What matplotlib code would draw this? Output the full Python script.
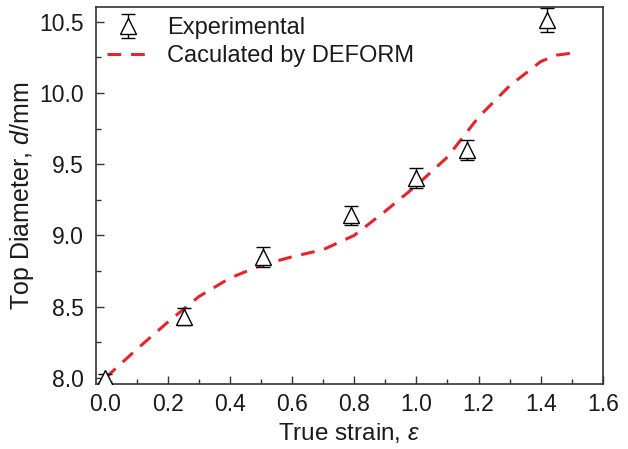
import matplotlib.pyplot as plt

plt.rcParams['font.family'] = ['Liberation Sans', 'DejaVu Sans']
plt.rcParams['mathtext.fontset'] = 'custom'
plt.rcParams['mathtext.it'] = 'Liberation Sans:italic'
plt.rcParams['mathtext.rm'] = 'Liberation Sans'

# experimental points
exp_strain = [0.0, 0.253, 0.506, 0.79, 0.998, 1.163, 1.42]
exp_diam = [8.0, 8.43, 8.85, 9.14, 9.40, 9.60, 10.51]
exp_err = [0.03, 0.06, 0.07, 0.065, 0.07, 0.07, 0.085]

# DEFORM curve
sim_strain = [0.0, 0.1, 0.2, 0.3, 0.4, 0.5, 0.6, 0.7, 0.8, 0.9,
              1.0, 1.1, 1.2, 1.3, 1.4, 1.45, 1.52]
sim_diam = [8.0, 8.2, 8.39, 8.57, 8.70, 8.79, 8.85, 8.90, 9.0, 9.17,
            9.35, 9.55, 9.83, 10.05, 10.22, 10.265, 10.285]

fig = plt.figure(figsize=(6.28, 4.49), dpi=100)
ax = fig.add_axes([0.153, 0.144, 0.807, 0.841])

ax.errorbar(exp_strain, exp_diam, yerr=exp_err, fmt='^', mfc='white', mec='black',
            mew=1.0, ms=12, ecolor='black', elinewidth=1.0, capsize=4.7, capthick=1.0,
            label='Experimental', zorder=3)
ax.plot(sim_strain, sim_diam, color='#e8232b', lw=2.2, dashes=(4.5, 3.2),
        label='Caculated by DEFORM', zorder=2)

ax.set_xlim(-0.03, 1.6)
ax.set_ylim(7.955, 10.605)
ax.set_xticks([0.0, 0.2, 0.4, 0.6, 0.8, 1.0, 1.2, 1.4, 1.6])
ax.set_xticks([0.1, 0.3, 0.5, 0.7, 0.9, 1.1, 1.3, 1.5], minor=True)
ax.set_yticks([8.0, 8.5, 9.0, 9.5, 10.0, 10.5])
ax.set_yticks([8.25, 8.75, 9.25, 9.75, 10.25], minor=True)
ax.tick_params(which='both', direction='in', labelsize=16.5, color='#333333',
               labelcolor='#1a1a1a')
ax.tick_params(which='major', length=6, width=1)
ax.tick_params(which='minor', length=3.5, width=1)
ax.tick_params(axis='y', pad=9)
ax.tick_params(axis='x', pad=6)
for s in ax.spines.values():
    s.set_color('#333333')
    s.set_linewidth(1.2)

ax.set_xlabel(r'True strain, $\varepsilon$', fontsize=17.5, labelpad=4, color='#1a1a1a')
ax.set_ylabel(r'Top Diameter, $d$/mm', fontsize=18, labelpad=2, color='#1a1a1a')

h, l = ax.get_legend_handles_labels()
leg = ax.legend(h[::-1], l[::-1], loc='upper left', frameon=False, fontsize=17,
                handlelength=1.8, handletextpad=0.76, labelspacing=0.25,
                borderaxespad=0.0, borderpad=0.2, bbox_to_anchor=(0.012, 0.985),
                numpoints=1)
for t in leg.get_texts():
    t.set_color('#1a1a1a')

fig.savefig('out.png', dpi=100)
